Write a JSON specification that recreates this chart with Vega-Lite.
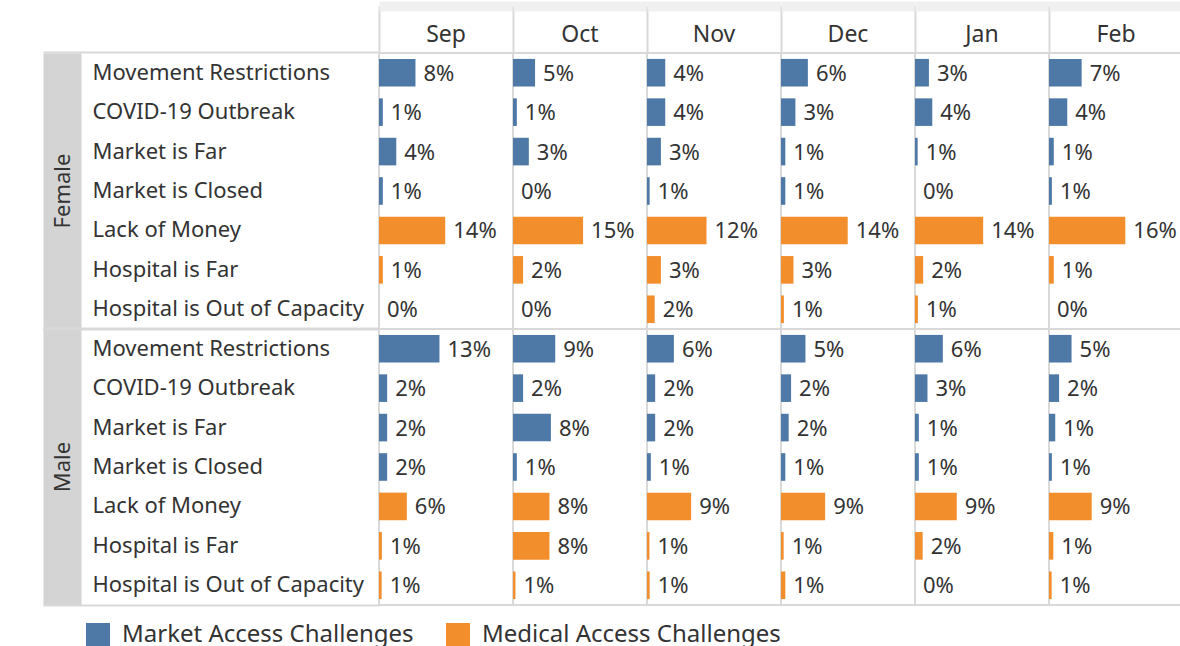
{
  "$schema": "https://vega.github.io/schema/vega-lite/v6.json",
  "padding": {"left": 42, "top": 5, "right": 0, "bottom": 0},
  "background": "white",
  "data": {"values": [
    {"gender":"Female","challenge":"Movement Restrictions","type":"Market Access Challenges","month":"Sep","share":0.076},
    {"gender":"Female","challenge":"Movement Restrictions","type":"Market Access Challenges","month":"Oct","share":0.046},
    {"gender":"Female","challenge":"Movement Restrictions","type":"Market Access Challenges","month":"Nov","share":0.038},
    {"gender":"Female","challenge":"Movement Restrictions","type":"Market Access Challenges","month":"Dec","share":0.056},
    {"gender":"Female","challenge":"Movement Restrictions","type":"Market Access Challenges","month":"Jan","share":0.029},
    {"gender":"Female","challenge":"Movement Restrictions","type":"Market Access Challenges","month":"Feb","share":0.068},
    {"gender":"Female","challenge":"COVID-19 Outbreak","type":"Market Access Challenges","month":"Sep","share":0.008},
    {"gender":"Female","challenge":"COVID-19 Outbreak","type":"Market Access Challenges","month":"Oct","share":0.008},
    {"gender":"Female","challenge":"COVID-19 Outbreak","type":"Market Access Challenges","month":"Nov","share":0.038},
    {"gender":"Female","challenge":"COVID-19 Outbreak","type":"Market Access Challenges","month":"Dec","share":0.030},
    {"gender":"Female","challenge":"COVID-19 Outbreak","type":"Market Access Challenges","month":"Jan","share":0.036},
    {"gender":"Female","challenge":"COVID-19 Outbreak","type":"Market Access Challenges","month":"Feb","share":0.038},
    {"gender":"Female","challenge":"Market is Far","type":"Market Access Challenges","month":"Sep","share":0.036},
    {"gender":"Female","challenge":"Market is Far","type":"Market Access Challenges","month":"Oct","share":0.033},
    {"gender":"Female","challenge":"Market is Far","type":"Market Access Challenges","month":"Nov","share":0.029},
    {"gender":"Female","challenge":"Market is Far","type":"Market Access Challenges","month":"Dec","share":0.009},
    {"gender":"Female","challenge":"Market is Far","type":"Market Access Challenges","month":"Jan","share":0.0055},
    {"gender":"Female","challenge":"Market is Far","type":"Market Access Challenges","month":"Feb","share":0.010},
    {"gender":"Female","challenge":"Market is Closed","type":"Market Access Challenges","month":"Sep","share":0.008},
    {"gender":"Female","challenge":"Market is Closed","type":"Market Access Challenges","month":"Oct","share":0},
    {"gender":"Female","challenge":"Market is Closed","type":"Market Access Challenges","month":"Nov","share":0.0055},
    {"gender":"Female","challenge":"Market is Closed","type":"Market Access Challenges","month":"Dec","share":0.009},
    {"gender":"Female","challenge":"Market is Closed","type":"Market Access Challenges","month":"Jan","share":0},
    {"gender":"Female","challenge":"Market is Closed","type":"Market Access Challenges","month":"Feb","share":0.006},
    {"gender":"Female","challenge":"Lack of Money","type":"Medical Access Challenges","month":"Sep","share":0.138},
    {"gender":"Female","challenge":"Lack of Money","type":"Medical Access Challenges","month":"Oct","share":0.146},
    {"gender":"Female","challenge":"Lack of Money","type":"Medical Access Challenges","month":"Nov","share":0.124},
    {"gender":"Female","challenge":"Lack of Money","type":"Medical Access Challenges","month":"Dec","share":0.139},
    {"gender":"Female","challenge":"Lack of Money","type":"Medical Access Challenges","month":"Jan","share":0.142},
    {"gender":"Female","challenge":"Lack of Money","type":"Medical Access Challenges","month":"Feb","share":0.159},
    {"gender":"Female","challenge":"Hospital is Far","type":"Medical Access Challenges","month":"Sep","share":0.008},
    {"gender":"Female","challenge":"Hospital is Far","type":"Medical Access Challenges","month":"Oct","share":0.021},
    {"gender":"Female","challenge":"Hospital is Far","type":"Medical Access Challenges","month":"Nov","share":0.029},
    {"gender":"Female","challenge":"Hospital is Far","type":"Medical Access Challenges","month":"Dec","share":0.026},
    {"gender":"Female","challenge":"Hospital is Far","type":"Medical Access Challenges","month":"Jan","share":0.017},
    {"gender":"Female","challenge":"Hospital is Far","type":"Medical Access Challenges","month":"Feb","share":0.010},
    {"gender":"Female","challenge":"Hospital is Out of Capacity","type":"Medical Access Challenges","month":"Sep","share":0},
    {"gender":"Female","challenge":"Hospital is Out of Capacity","type":"Medical Access Challenges","month":"Oct","share":0},
    {"gender":"Female","challenge":"Hospital is Out of Capacity","type":"Medical Access Challenges","month":"Nov","share":0.016},
    {"gender":"Female","challenge":"Hospital is Out of Capacity","type":"Medical Access Challenges","month":"Dec","share":0.006},
    {"gender":"Female","challenge":"Hospital is Out of Capacity","type":"Medical Access Challenges","month":"Jan","share":0.006},
    {"gender":"Female","challenge":"Hospital is Out of Capacity","type":"Medical Access Challenges","month":"Feb","share":0},
    {"gender":"Male","challenge":"Movement Restrictions","type":"Market Access Challenges","month":"Sep","share":0.126},
    {"gender":"Male","challenge":"Movement Restrictions","type":"Market Access Challenges","month":"Oct","share":0.088},
    {"gender":"Male","challenge":"Movement Restrictions","type":"Market Access Challenges","month":"Nov","share":0.056},
    {"gender":"Male","challenge":"Movement Restrictions","type":"Market Access Challenges","month":"Dec","share":0.051},
    {"gender":"Male","challenge":"Movement Restrictions","type":"Market Access Challenges","month":"Jan","share":0.058},
    {"gender":"Male","challenge":"Movement Restrictions","type":"Market Access Challenges","month":"Feb","share":0.047},
    {"gender":"Male","challenge":"COVID-19 Outbreak","type":"Market Access Challenges","month":"Sep","share":0.017},
    {"gender":"Male","challenge":"COVID-19 Outbreak","type":"Market Access Challenges","month":"Oct","share":0.021},
    {"gender":"Male","challenge":"COVID-19 Outbreak","type":"Market Access Challenges","month":"Nov","share":0.017},
    {"gender":"Male","challenge":"COVID-19 Outbreak","type":"Market Access Challenges","month":"Dec","share":0.021},
    {"gender":"Male","challenge":"COVID-19 Outbreak","type":"Market Access Challenges","month":"Jan","share":0.026},
    {"gender":"Male","challenge":"COVID-19 Outbreak","type":"Market Access Challenges","month":"Feb","share":0.021},
    {"gender":"Male","challenge":"Market is Far","type":"Market Access Challenges","month":"Sep","share":0.017},
    {"gender":"Male","challenge":"Market is Far","type":"Market Access Challenges","month":"Oct","share":0.079},
    {"gender":"Male","challenge":"Market is Far","type":"Market Access Challenges","month":"Nov","share":0.017},
    {"gender":"Male","challenge":"Market is Far","type":"Market Access Challenges","month":"Dec","share":0.016},
    {"gender":"Male","challenge":"Market is Far","type":"Market Access Challenges","month":"Jan","share":0.008},
    {"gender":"Male","challenge":"Market is Far","type":"Market Access Challenges","month":"Feb","share":0.013},
    {"gender":"Male","challenge":"Market is Closed","type":"Market Access Challenges","month":"Sep","share":0.017},
    {"gender":"Male","challenge":"Market is Closed","type":"Market Access Challenges","month":"Oct","share":0.008},
    {"gender":"Male","challenge":"Market is Closed","type":"Market Access Challenges","month":"Nov","share":0.008},
    {"gender":"Male","challenge":"Market is Closed","type":"Market Access Challenges","month":"Dec","share":0.009},
    {"gender":"Male","challenge":"Market is Closed","type":"Market Access Challenges","month":"Jan","share":0.008},
    {"gender":"Male","challenge":"Market is Closed","type":"Market Access Challenges","month":"Feb","share":0.006},
    {"gender":"Male","challenge":"Lack of Money","type":"Medical Access Challenges","month":"Sep","share":0.058},
    {"gender":"Male","challenge":"Lack of Money","type":"Medical Access Challenges","month":"Oct","share":0.076},
    {"gender":"Male","challenge":"Lack of Money","type":"Medical Access Challenges","month":"Nov","share":0.092},
    {"gender":"Male","challenge":"Lack of Money","type":"Medical Access Challenges","month":"Dec","share":0.092},
    {"gender":"Male","challenge":"Lack of Money","type":"Medical Access Challenges","month":"Jan","share":0.087},
    {"gender":"Male","challenge":"Lack of Money","type":"Medical Access Challenges","month":"Feb","share":0.089},
    {"gender":"Male","challenge":"Hospital is Far","type":"Medical Access Challenges","month":"Sep","share":0.006},
    {"gender":"Male","challenge":"Hospital is Far","type":"Medical Access Challenges","month":"Oct","share":0.076},
    {"gender":"Male","challenge":"Hospital is Far","type":"Medical Access Challenges","month":"Nov","share":0.0051},
    {"gender":"Male","challenge":"Hospital is Far","type":"Medical Access Challenges","month":"Dec","share":0.0055},
    {"gender":"Male","challenge":"Hospital is Far","type":"Medical Access Challenges","month":"Jan","share":0.016},
    {"gender":"Male","challenge":"Hospital is Far","type":"Medical Access Challenges","month":"Feb","share":0.009},
    {"gender":"Male","challenge":"Hospital is Out of Capacity","type":"Medical Access Challenges","month":"Sep","share":0.0055},
    {"gender":"Male","challenge":"Hospital is Out of Capacity","type":"Medical Access Challenges","month":"Oct","share":0.0051},
    {"gender":"Male","challenge":"Hospital is Out of Capacity","type":"Medical Access Challenges","month":"Nov","share":0.0055},
    {"gender":"Male","challenge":"Hospital is Out of Capacity","type":"Medical Access Challenges","month":"Dec","share":0.009},
    {"gender":"Male","challenge":"Hospital is Out of Capacity","type":"Medical Access Challenges","month":"Jan","share":0},
    {"gender":"Male","challenge":"Hospital is Out of Capacity","type":"Medical Access Challenges","month":"Feb","share":0.0055}
  ]},
  "facet": {
    "row": {"field": "gender", "type": "nominal", "sort": ["Female", "Male"],
      "header": {"title": null, "labelOrient": "left", "labelAngle": 270, "labelAlign": "center", "labelBaseline": "middle",
        "labelPadding": -43, "labelFont": "Noto Sans", "labelFontSize": 22, "labelColor": "#333333", "labelLimit": 0}},
    "column": {"field": "month", "type": "nominal", "sort": ["Sep", "Oct", "Nov", "Dec", "Jan", "Feb"],
      "header": {"title": null, "labelOrient": "top", "labelBaseline": "middle", "labelPadding": -53,
        "labelFont": "Noto Sans", "labelFontSize": 23, "labelColor": "#333333", "labelLimit": 0}}
  },
  "spacing": {"row": 0, "column": 0},
  "bounds": "flush",
  "spec": {
    "width": 134,
    "height": 276,
    "encoding": {
      "x": {"field": "share", "type": "quantitative", "scale": {"domain": [0, 0.2792], "nice": false, "zero": true},
        "axis": {"orient": "top", "offset": 47, "values": [0], "labels": false, "grid": false, "title": null,
          "domain": true, "domainColor": "#f0f0f0", "domainWidth": 10, "domainCap": "butt",
          "ticks": true, "tickSize": -47, "tickColor": "#d9d9d9", "tickWidth": 2}}
    },
    "layer": [
      {
        "mark": {"type": "bar"},
        "encoding": {
          "y": {"field": "challenge", "type": "nominal",
            "sort": ["Movement Restrictions", "COVID-19 Outbreak", "Market is Far", "Market is Closed", "Lack of Money", "Hospital is Far", "Hospital is Out of Capacity"],
            "scale": {"paddingInner": 0.3, "paddingOuter": 0.15},
            "axis": {"orient": "left", "offset": 317, "title": null, "ticks": false, "grid": false,
              "domain": true, "domainColor": "#d4d4d4", "domainWidth": 38, "domainCap": "butt",
              "labelAlign": "left", "labelPadding": -30, "labelBaseline": "middle", "labelFont": "Noto Sans",
              "labelFontSize": 22, "labelColor": "#333333", "labelLimit": 0, "labelOverlap": false}},
          "color": {"field": "type", "type": "nominal",
            "scale": {"domain": ["Market Access Challenges", "Medical Access Challenges"], "range": ["#4e79a7", "#f28e2b"]},
            "legend": {"orient": "none", "legendX": -293, "legendY": 570, "direction": "horizontal", "title": null,
              "symbolType": "square", "symbolSize": 576, "symbolStrokeWidth": 0, "symbolOpacity": 1,
              "labelFont": "Noto Sans", "labelFontSize": 24, "labelColor": "#333333", "labelOffset": 12,
              "columnPadding": 32, "labelLimit": 0}}
        }
      },
      {
        "mark": {"type": "text", "align": "left", "baseline": "middle", "dx": 8, "dy": 1, "font": "Noto Sans", "fontSize": 22, "color": "#333333"},
        "encoding": {
          "text": {"field": "share", "type": "quantitative", "format": ".0%"},
          "y": {"field": "challenge", "type": "nominal",
            "sort": ["Movement Restrictions", "COVID-19 Outbreak", "Market is Far", "Market is Closed", "Lack of Money", "Hospital is Far", "Hospital is Out of Capacity"],
            "axis": {"orient": "left", "values": ["Movement Restrictions"], "bandPosition": -0.2143, "title": null,
              "labels": false, "domain": false, "grid": false, "ticks": true, "tickSize": 336, "tickColor": "#d9d9d9", "tickWidth": 2}}
        }
      },
      {
        "mark": {"type": "text", "text": "", "align": "left"},
        "encoding": {
          "y": {"field": "challenge", "type": "nominal",
            "sort": ["Movement Restrictions", "COVID-19 Outbreak", "Market is Far", "Market is Closed", "Lack of Money", "Hospital is Far", "Hospital is Out of Capacity"],
            "axis": {"orient": "left", "values": ["Hospital is Out of Capacity"], "bandPosition": 1.2143, "title": null,
              "labels": false, "domain": false, "grid": false, "ticks": true, "tickSize": 336, "tickColor": "#d9d9d9", "tickWidth": 2}}
        }
      }
    ],
    "resolve": {"axis": {"y": "independent"}}
  },
  "config": {
    "view": {"stroke": "#d9d9d9", "strokeWidth": 2},
    "facet": {"spacing": 0},
    "font": "Noto Sans"
  }
}
